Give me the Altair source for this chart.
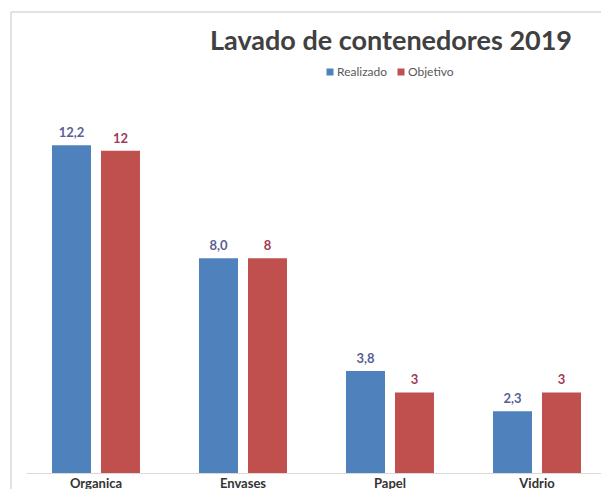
import altair as alt
import pandas as pd

categories = ["Organica", "Envases", "Papel", "Vidrio"]
series = ["Realizado", "Objetivo"]
realizado = [12.2, 8.0, 3.8, 2.3]
objetivo = [12, 8, 3, 3]
realizado_labels = ["12,2", "8,0", "3,8", "2,3"]
objetivo_labels = ["12", "8", "3", "3"]
bar_colors = ["#4F81BD", "#C0504D"]
label_colors = ["#5A5F96", "#A33A56"]
title_text = "Lavado de contenedores 2019"

rows = []
for i, c in enumerate(categories):
    rows.append(dict(cat=c, serie="Realizado", value=realizado[i], label=realizado_labels[i]))
    rows.append(dict(cat=c, serie="Objetivo", value=objetivo[i], label=objetivo_labels[i]))
df = pd.DataFrame(rows)

W, H = 575, 376
FONT = "Lato"

x = alt.X(
    "cat:N", sort=categories,
    scale=alt.Scale(paddingInner=0.4014, paddingOuter=0.1565, align=0.565),
    axis=alt.Axis(title=None, labelAngle=0, labelFont=FONT, labelFontSize=13,
                  labelFontWeight="bold", labelColor="#333333", labelPadding=4,
                  domainColor="#D9D9D9", ticks=False),
)
xoff = alt.XOffset("serie:N", sort=series, scale=alt.Scale(paddingInner=0.204, paddingOuter=0))
y = alt.Y("value:Q", scale=alt.Scale(domain=[0, 14]), axis=None)

base = alt.Chart(df).encode(x=x, xOffset=xoff, y=y)

bars = base.mark_bar().encode(
    color=alt.Color(
        "serie:N", sort=series,
        scale=alt.Scale(domain=series, range=bar_colors),
        legend=alt.Legend(title=None, orient="none", legendX=298, legendY=-31,
                          direction="horizontal", symbolType="square", symbolSize=49,
                          symbolStrokeWidth=0, labelFont=FONT, labelFontSize=12,
                          labelColor="#595959", columnPadding=7, labelOffset=1),
    )
)

labels = base.mark_text(dy=-8, baseline="alphabetic", fontWeight="bold",
                        fontSize=13, font=FONT).encode(
    text="label:N",
    color=alt.Color("serie:N", scale=alt.Scale(domain=series, range=label_colors), legend=None),
)

one = pd.DataFrame({"a": [0]})
frame_v = alt.Chart(one).mark_rule(color="#D9D9D9", strokeWidth=1.5).encode(
    x=alt.value(-15), y=alt.value(-85), y2=alt.value(H + 40))
frame_h = alt.Chart(one).mark_rule(color="#D9D9D9", strokeWidth=1.5).encode(
    x=alt.value(-15), x2=alt.value(W + 20), y=alt.value(-85))

title = alt.Chart(one).mark_text(font=FONT, fontSize=27, fontWeight="bold", color="#404040",
                                 align="center", baseline="alphabetic").encode(
    x=alt.value(365), y=alt.value(-47), text=alt.value(title_text))

chart = alt.layer(frame_v, frame_h, title, bars, labels).resolve_scale(color="independent").properties(
    width=W, height=H,
    autosize=alt.AutoSizeParams(type="none"),
    padding={"left": 18, "top": 89, "right": 0, "bottom": 16},
).configure(background="white").configure_view(stroke=None)

chart.save("out.html", embed_options={"renderer": "svg", "actions": False})
